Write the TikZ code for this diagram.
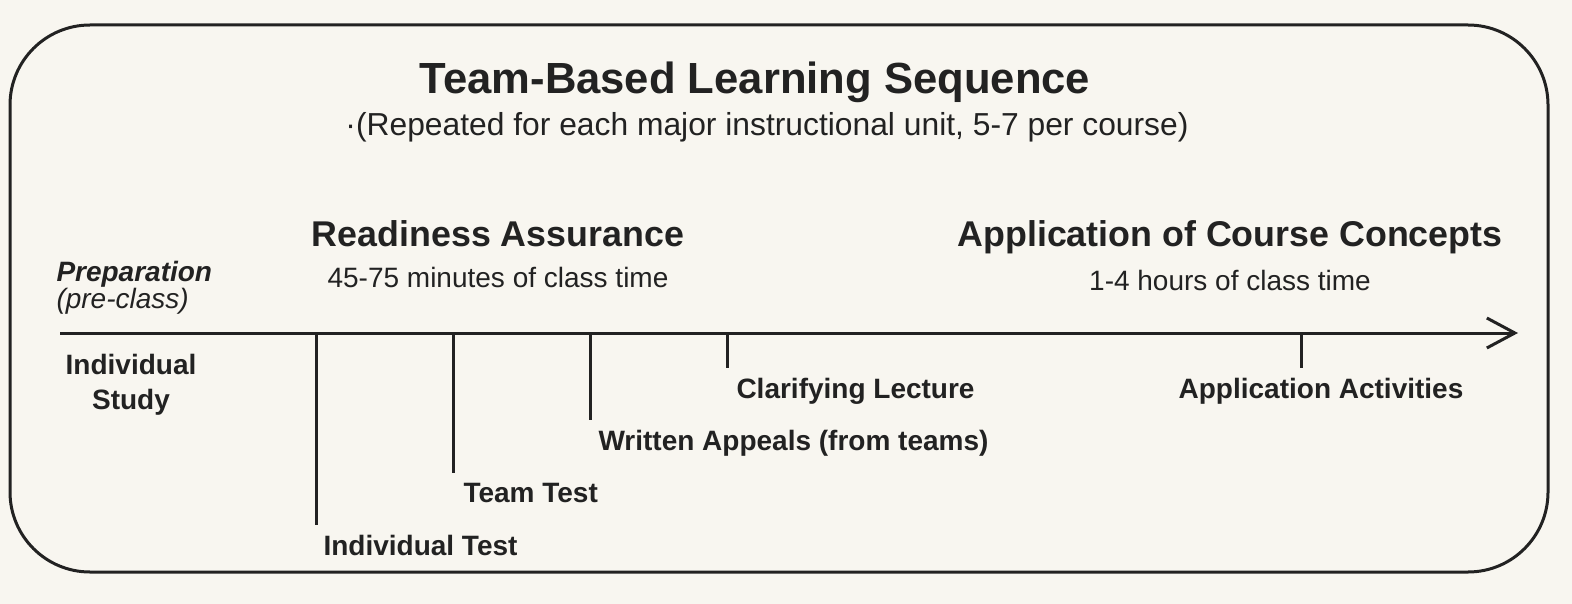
\documentclass[tikz,border=0pt]{standalone}
\usepackage{fontspec}
\setmainfont{Liberation Sans}
\usetikzlibrary{arrows.meta, positioning}
\definecolor{ink}{HTML}{222222}
\definecolor{paper}{HTML}{F8F6F0}

\begin{document}
\begin{tikzpicture}[x=0.5pt, y=-0.5pt, line width=1.5pt, draw=ink, text=ink,
    >={Straight Barb[length=14pt, width=15pt]},
    headtxt/.style={font=\fontsize{21.8}{26}\selectfont\bfseries, inner sep=0pt, anchor=base},
    subtxt/.style={font=\fontsize{15.9}{19}\selectfont, inner sep=0pt, anchor=base},
    phasetxt/.style={font=\fontsize{17.9}{21}\selectfont\bfseries, inner sep=0pt, anchor=base},
    timetxt/.style={font=\fontsize{14}{17}\selectfont, inner sep=0pt},
    evt/.style={font=\fontsize{14}{17}\selectfont\bfseries, inner xsep=0pt, inner ysep=4pt, anchor=base west},
    stem/.style={draw=ink, line width=1.5pt}]

  % paper
  \fill[paper] (0,0) rectangle (1572,604);
  \useasboundingbox (0,0) rectangle (1572,604);

  % frame
  \draw[rounded corners=40pt] (10,25) rectangle (1548,572);

  % heading
  \node[headtxt] (head) at (755,94) {Team-Based Learning Sequence};
  \node[subtxt] (sub) at (767,136) {·(Repeated for each major instructional unit, 5-7 per course)};

  % phases
  \node[phasetxt] (ra) at (498,246) {Readiness Assurance};
  \node[timetxt, below=9pt of ra] (ratime) {45-75 minutes of class time};
  \node[phasetxt] (app) at (1230,246) {Application of Course Concepts};
  \node[timetxt, below=7pt of app] (apptime) {1-4 hours of class time};

  \node[timetxt, font=\fontsize{14}{17}\selectfont\bfseries\itshape, anchor=base west] (prep) at (55,281) {Preparation};
  \node[timetxt, font=\fontsize{14}{17}\selectfont\itshape, anchor=base west] (pre) at (55,308) {(pre-class)};
  \node[timetxt, font=\fontsize{14}{17.5}\selectfont\bfseries, align=center, anchor=base] (study) at (131,409) {Individual\\Study};

  % time line
  \coordinate (t0) at (60,333);
  \coordinate (tend) at (1518,333);
  \draw[->] (t0) -- (tend);

  % steps
  \coordinate (t1) at (316,333);
  \coordinate (t2) at (453,333);
  \coordinate (t3) at (590,333);
  \coordinate (t4) at (727,333);
  \coordinate (t5) at (1301,333);
  \node[evt] (itest) at (322,555) {Individual Test};
  \node[evt] (ttest) at (462,502) {Team Test};
  \node[evt] (appeal) at (597,450) {Written Appeals (from teams)};
  \node[evt] (lect) at (735,398) {Clarifying Lecture};
  \node[evt, anchor=base] (act) at (1321,398) {Application Activities};

  \draw[stem] (t1) -- (t1 |- itest.north);
  \draw[stem] (t2) -- (t2 |- ttest.north);
  \draw[stem] (t3) -- (t3 |- appeal.north);
  \draw[stem] (t4) -- (t4 |- lect.north);
  \draw[stem] (t5) -- (t5 |- act.north);
\end{tikzpicture}
\end{document}
